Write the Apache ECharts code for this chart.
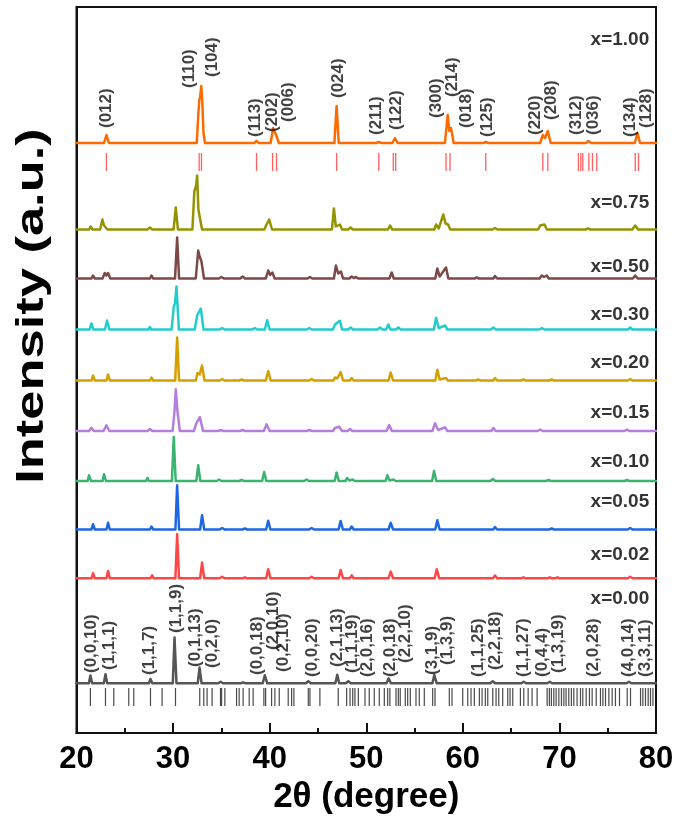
<!DOCTYPE html>
<html><head><meta charset="utf-8">
<script src="https://cdn.jsdelivr.net/npm/echarts@6/dist/echarts.min.js"></script>
<style>html,body{margin:0;padding:0;background:#fff}#c{width:677px;height:821px}</style>
</head><body><div id="c"></div>
<script>
// ---------------- DATA ----------------
const xTicks = [20, 30, 40, 50, 60, 70, 80];
const sampleNames = ['x=1.00','x=0.75','x=0.50','x=0.30','x=0.20','x=0.15','x=0.10','x=0.05','x=0.02','x=0.00'];
// vertical offset (stacking) of each pattern, in plot intensity units
const baselineOffsets = [590, 503.5, 454.5, 403.5, 352.5, 302, 252, 203.5, 154.7, 49.7];

// [2theta, intensity above own baseline]
const pattern100 = [[20,0],[22.85,0],[23.1,8],[23.35,0],[32.45,0],[32.62,30],[32.72,43],[32.8,46],[32.92,57],[33.02,42],[33.15,10],[33.3,0],[38.4,0],[38.64,2],[38.88,0],[40.1,0],[40.36,15],[40.71,7],[40.95,0],[46.7,0],[46.93,37],[47.15,0],[51.05,0],[51.3,1],[51.55,0],[52.7,0],[52.97,5],[53.25,0],[58.15,0],[58.43,28],[58.6,12],[58.78,15],[59.05,0],[62.12,0],[62.37,1],[62.62,0],[68.0,0],[68.28,8],[68.5,5],[68.8,12],[69.1,0],[72.75,0],[73.0,2],[73.3,0],[77.8,0],[78.08,10],[78.35,0],[80,0]];
const pattern075 = [[20,0],[21.3,0],[21.47,3],[21.65,0],[22.45,0],[22.68,10],[22.85,4],[23.0,4],[23.2,0],[27.35,0],[27.6,2],[27.85,0],[30.05,0],[30.28,22],[30.5,0],[32.0,0],[32.2,38],[32.3,41],[32.4,45],[32.49,54],[32.62,20],[32.77,12],[33.0,0],[39.45,0],[39.68,5],[39.95,10],[40.25,0],[46.45,0],[46.65,21],[46.85,3],[47.27,5],[47.5,0],[48.13,0],[48.38,2],[48.63,0],[52.25,0],[52.46,4],[52.7,0],[57.05,0],[57.23,5],[57.5,1],[57.98,15],[58.2,6],[58.47,5],[58.7,0],[63.08,0],[63.33,1.5],[63.58,0],[67.8,0],[68.0,4],[68.2,3],[68.45,5],[68.7,0],[72.72,0],[72.97,1],[73.22,0],[77.55,0],[77.85,4],[78.15,0],[80,0]];
const pattern050 = [[20,0],[21.55,0],[21.71,3],[21.9,0],[22.7,0],[22.92,5.5],[23.1,3],[23.27,5.5],[23.5,0],[27.6,0],[27.76,3],[27.95,0],[30.2,0],[30.42,41],[30.62,0],[32.35,0],[32.6,28],[32.75,22],[32.94,17],[33.2,0],[34.75,0],[35.0,1.5],[35.25,0],[36.95,0],[37.2,2],[37.45,0],[39.6,0],[39.85,8],[40.05,3.5],[40.28,6],[40.52,0],[43.92,0],[44.17,1.5],[44.42,0],[46.65,0],[46.86,13],[47.1,5],[47.38,7],[47.6,0],[48.25,0],[48.49,2],[48.71,0.5],[48.93,1.5],[49.17,0],[52.4,0],[52.63,6],[52.85,0],[57.15,0],[57.36,10],[57.6,2],[57.8,3],[58.26,11],[58.5,0],[61.2,0],[61.44,1],[61.68,0],[63.15,0],[63.33,2.5],[63.55,0],[67.95,0],[68.17,3],[68.4,1.5],[68.69,3],[68.9,0],[77.6,0],[77.85,3],[78.1,0],[80,0]];
const pattern030 = [[20,0],[21.35,0],[21.54,6],[21.75,0],[22.95,0],[23.16,9],[23.4,0],[27.45,0],[27.6,2.5],[27.75,0],[29.85,0],[30.07,23],[30.2,26],[30.35,43],[30.6,0],[32.25,0],[32.49,14],[32.65,14],[32.87,21],[33.15,0],[34.83,0],[35.08,1.5],[35.33,0],[38.22,0],[38.47,1.5],[38.72,0],[39.5,0],[39.74,9.3],[40.0,0],[43.85,0],[44.1,1.5],[44.35,0],[46.55,0],[46.76,5],[46.95,3],[47.27,8.7],[47.5,0],[48.13,0],[48.38,2],[48.63,0],[51.17,0],[51.42,2],[51.67,0],[52.05,0],[52.28,5],[52.5,0],[53.07,0],[53.32,2],[53.57,0],[57.0,0],[57.23,11.7],[57.5,1.5],[58.16,4],[58.4,0],[62.91,0],[63.16,2],[63.41,0],[67.92,0],[68.17,1.5],[68.42,0],[77.1,0],[77.33,2],[77.55,0],[80,0]];
const pattern020 = [[20,0],[21.55,0],[21.71,5],[21.9,0],[23.1,0],[23.27,6],[23.45,0],[27.6,0],[27.76,3],[27.95,0],[30.22,0],[30.42,43],[30.62,0],[32.35,0],[32.53,7.5],[32.75,6],[33.0,15],[33.25,0],[34.83,0],[35.08,1.5],[35.33,0],[36.84,0],[37.09,1],[37.34,0],[39.6,0],[39.85,9.5],[40.1,0],[44.09,0],[44.34,1.5],[44.59,0],[46.6,0],[46.76,3],[47.0,2],[47.35,8.5],[47.6,0],[48.3,0],[48.49,2.5],[48.7,0],[52.3,0],[52.53,8],[52.78,0],[57.15,0],[57.36,10.7],[57.6,1],[58.26,2.5],[58.45,0],[61.35,0],[61.6,1],[61.85,0],[63.15,0],[63.33,2.5],[63.55,0],[66.02,0],[66.27,1],[66.52,0],[68.95,0],[69.2,1],[69.45,0],[77.08,0],[77.33,1.5],[77.58,0],[80,0]];
const pattern015 = [[20,0],[21.3,0],[21.54,3.3],[21.8,0],[22.8,0],[23.1,5.7],[23.4,0],[27.35,0],[27.6,2],[27.85,0],[29.95,0],[30.15,20],[30.28,41.7],[30.45,20],[30.7,0],[32.15,0],[32.42,8],[32.55,7],[32.77,14],[33.1,0],[34.69,0],[34.94,1],[35.19,0],[36.95,0],[37.2,1],[37.45,0],[39.4,0],[39.68,6.7],[40.0,0],[43.85,0],[44.1,1],[44.35,0],[46.55,0],[46.76,3],[46.95,2.5],[47.2,4.3],[47.5,0],[48.06,0],[48.31,2],[48.56,0],[52.1,0],[52.38,6],[52.65,0],[56.85,0],[57.12,7.7],[57.45,1],[58.16,3.7],[58.4,0],[62.95,0],[63.16,3],[63.4,0],[67.75,0],[68.0,1.5],[68.25,0],[76.74,0],[76.99,1.5],[77.24,0],[80,0]];
const pattern010 = [[20,0],[21.15,0],[21.3,5.7],[21.5,0],[22.7,0],[22.85,6.7],[23.05,0],[27.2,0],[27.35,3],[27.5,0],[29.88,0],[30.07,44],[30.27,0],[32.4,0],[32.6,15.7],[32.82,0],[34.52,0],[34.77,1.5],[35.02,0],[36.84,0],[37.09,1],[37.34,0],[39.22,0],[39.43,9],[39.65,0],[43.57,0],[43.82,1.5],[44.07,0],[46.73,0],[46.93,8.4],[47.15,0],[47.85,0],[48.03,3],[48.25,0.5],[48.59,1.5],[48.84,0],[52.0,0],[52.18,5.7],[52.4,0.5],[52.8,1.5],[53.05,0],[56.82,0],[57.02,10],[57.25,0],[62.85,0],[63.1,2],[63.35,0],[68.61,0],[68.86,1],[69.11,0],[76.74,0],[76.99,1],[77.24,0],[80,0]];
const pattern005 = [[20,0],[21.55,0],[21.71,5.3],[21.9,0],[23.1,0],[23.27,6.7],[23.45,0],[27.6,0],[27.76,3],[27.95,0],[30.24,0],[30.42,44.3],[30.62,0],[32.8,0],[33.0,14.3],[33.22,0],[34.83,0],[35.08,1.5],[35.33,0],[37.18,0],[37.43,1],[37.68,0],[39.63,0],[39.85,8.7],[40.08,0],[44.09,0],[44.34,1.5],[44.59,0],[47.13,0],[47.35,8.6],[47.58,0],[48.3,0],[48.49,3],[48.7,0],[52.3,0],[52.53,6.7],[52.78,0],[57.14,0],[57.36,9.3],[57.6,0],[63.15,0],[63.33,2.5],[63.55,0],[68.95,0],[69.2,1],[69.45,0],[77.08,0],[77.33,1.5],[77.58,0],[80,0]];
const pattern002 = [[20,0],[21.55,0],[21.71,5],[21.9,0],[23.1,0],[23.27,7.3],[23.45,0],[27.65,0],[27.83,3],[28.0,0],[30.24,0],[30.42,44],[30.62,0],[32.8,0],[33.0,15.7],[33.22,0],[34.83,0],[35.08,1.5],[35.33,0],[37.18,0],[37.43,1],[37.68,0],[39.63,0],[39.85,9],[40.08,0],[44.09,0],[44.34,1.5],[44.59,0],[47.13,0],[47.35,8.3],[47.58,0],[48.3,0],[48.49,3],[48.7,0],[52.3,0],[52.53,6.7],[52.78,0],[57.08,0],[57.3,9],[57.55,0],[63.12,0],[63.33,2.7],[63.55,0],[66.02,0],[66.27,1],[66.52,0],[68.75,0],[69.0,1],[69.25,0],[69.55,0],[69.8,1],[70.05,0],[77.08,0],[77.33,1.5],[77.58,0],[80,0]];
const pattern000 = [[20,0],[21.28,0],[21.44,7.7],[21.62,0],[22.83,0],[23.0,9],[23.18,0],[27.5,0],[27.66,4.3],[27.85,0],[29.97,0],[30.15,45.7],[30.35,0],[32.55,0],[32.74,15.7],[32.95,0],[34.66,0],[34.91,1.5],[35.16,0],[37.0,0],[37.25,1],[37.5,0],[39.28,0],[39.5,8],[39.75,0],[43.75,0],[44.0,2],[44.25,0],[46.8,0],[47.0,8.5],[47.2,0],[47.89,0],[48.14,2],[48.39,0],[52.1,0],[52.32,5],[52.55,0],[56.85,0],[57.05,8.3],[57.3,0],[62.85,0],[63.1,2],[63.35,0],[66.05,0],[66.3,1.5],[66.55,0],[68.75,0],[69.0,1.5],[69.25,0],[76.95,0],[77.2,1.5],[77.45,0],[80,0]];

// reference reflection positions (2theta)
const refRhombohedral = [23.1,32.70,32.94,38.64,40.30,40.71,46.93,51.3,52.8,53.05,58.26,58.67,62.37,68.28,68.8,71.97,72.22,72.42,73.05,73.42,73.87,77.85,78.19];
const refOrthorhombic = [21.44,23.0,23.86,25.41,25.93,27.66,28.86,30.25,32.76,33.18,33.52,34.04,34.91,
 35.02,35.36,36.57,36.84,37.25,37.88,38.29,39.40,39.58,40.20,40.54,40.99,41.92,42.27,42.51,44.0,44.17,45.2,47.1,47.97,48.32,48.6,48.83,49.18,49.87,
 50.31,50.83,51.35,51.87,52.22,52.45,53.08,53.32,53.52,54.04,54.29,54.56,55.15,55.49,56.01,56.88,57.12,58.60,58.88,59.99,60.51,60.85,61.19,61.71,61.99,62.33,62.58,63.10,63.44,63.72,64.13,64.65,64.89,65.17,
 65.96,66.31,66.76,67.17,67.69,68.73,68.96,69.17,69.42,69.66,69.94,70.21,70.46,70.69,70.97,71.24,71.49,71.83,72.18,72.42,72.77,73.11,73.39,73.81,74.25,74.50,74.77,75.12,75.46,75.80,76.22,77.02,77.36,78.40,78.64,78.91,79.19,79.43,79.68];

// hkl annotations: [text, 2theta, bottom of label (plot units)]
const hklRhombohedral = [['(012)',23.13,605],['(110)',31.73,645],['(104)',34.01,656],['(113)',38.47,596],['(202)',40.23,601],['(006)',41.89,611],['(024)',47.07,635],['(211)',51.0,598],['(122)',53.08,603],['(300)',57.22,615],['(214)',58.88,636],['(018)',60.33,605],['(125)',62.51,596],['(220)',67.48,598],['(208)',69.14,613],['(312)',71.73,598],['(036)',73.49,598],['(134)',77.33,596],['(128)',78.99,605]];
const hklOrthorhombic = [['(0,0,10)',21.54,60],['(1,1,1)',23.44,63],['(1,1,7)',27.59,58],['(1,1,9)',30.38,100],['(0,1,13)',32.25,66],['(0,2,0)',34.01,65],['(0,0,18)',38.67,58],['(2,0,10)',40.33,83],['(0,2,10)',41.37,61],['(0,0,20)',44.37,56],['(2,1,13)',46.96,66],['(1,1,19)',48.52,60],['(2,0,16)',50.07,56],['(2,0,18)',52.45,56],['(2,2,10)',54.01,70],['(3,1,9)',56.81,58],['(1,3,9)',58.36,68],['(1,1,25)',61.57,56],['(2,2,18)',63.34,63],['(1,1,27)',66.24,56],['(0,4,4)',68.21,56],['(1,3,19)',69.87,60],['(2,0,28)',73.49,56],['(4,0,14)',77.12,56],['(3,3,11)',78.88,56]];

// ---------------- STYLE / LAYOUT ----------------
const FONT = 'Liberation Sans, Arial, Helvetica, sans-serif';
const colors = ['#ff6a00','#949400','#7d4848','#22cccc','#d4a000','#b57edc','#3cb371','#1f66e5','#ff4646','#555555'];
const patterns = [pattern100,pattern075,pattern050,pattern030,pattern020,pattern015,pattern010,pattern005,pattern002,pattern000];
const sampleLabelY = [693,530,466,418,370,320,271,231,178,134];
const sampleLabelX = 79.3;

const chart = echarts.init(document.getElementById('c'), null, {renderer:'canvas'});

const series = [];
patterns.forEach((p, i) => {
  series.push({
    type:'line', name: sampleNames[i], showSymbol:false, silent:true, z: 3,
    lineStyle:{color: colors[i], width: 2.5, join:'round', cap:'round'},
    data: p.map(d => [d[0], baselineOffsets[i] + d[1]])
  });
});

function sticks(xs, y0, y1, color, w) {
  return {
    type:'custom', silent:true, z:2,
    data: xs.map(x => [x, y0]),
    encode:{x:0, y:1},
    renderItem: (params, api) => {
      const a = api.coord([api.value(0), y0]);
      const b = api.coord([api.value(0), y1]);
      return {type:'line', shape:{x1:a[0], y1:a[1], x2:b[0], y2:b[1]}, style:{stroke:color, lineWidth:w}};
    }
  };
}
series.push(sticks(refRhombohedral, 562, 580, '#ff6060', 1.3));
series.push(sticks(refOrthorhombic, 27, 45, '#4a4a4a', 1.2));

function hklSeries(list) {
  return {
    type:'scatter', symbolSize:0, silent:true, z:5,
    data: list.map(d => ({name: d[0], value:[d[1], d[2]]})),
    label:{show:true, formatter: p => p.name, rotate:90, position:'inside', align:'left', verticalAlign:'middle',
      fontFamily: FONT, fontSize: 17, fontWeight:'bold', color:'#111'}
  };
}
series.push(hklSeries(hklRhombohedral));
series.push(hklSeries(hklOrthorhombic));

series.push({
  type:'scatter', symbolSize:0, silent:true, z:5,
  data: sampleNames.map((n, i) => ({name:n, value:[sampleLabelX, sampleLabelY[i]]})),
  label:{show:true, formatter: p => p.name, position:'inside', align:'right', verticalAlign:'middle',
    fontFamily: FONT, fontSize: 19, fontWeight:'bold', color:'#000'}
});

chart.setOption({
  animation:false,
  backgroundColor:'#fff',
  grid:{left:76.5, right:21, top:7, bottom:88, show:true, borderColor:'#111', borderWidth:2},
  xAxis:{
    type:'value', min:20, max:80, interval:10,
    name:'2\u03b8 (degree)', nameLocation:'middle', nameGap:47,
    nameTextStyle:{fontFamily:FONT, fontSize:35, fontWeight:'bold', color:'#000'},
    axisLine:{show:true, lineStyle:{color:'#111', width:2}},
    axisTick:{show:true, inside:true, length:10, lineStyle:{color:'#111', width:2}},
    minorTick:{show:true, splitNumber:2, length:5, lineStyle:{color:'#111', width:2}},
    splitLine:{show:false},
    axisLabel:{margin:11, fontFamily:FONT, fontSize:31, fontWeight:'bold', color:'#000',
      formatter: v => xTicks.indexOf(v) >= 0 ? String(v) : ''}
  },
  yAxis:{
    type:'value', min:0, max:726,
    axisLine:{show:true, lineStyle:{color:'#111', width:2}},
    axisTick:{show:false}, axisLabel:{show:false}, splitLine:{show:false}
  },
  graphic:[{
    type:'text', x:33, y:306, rotation:Math.PI/2, scaleX:1.38,
    style:{text:'Intensity (a.u.)', fontFamily:FONT, fontSize:38, fontWeight:'bold', fill:'#000', align:'center', verticalAlign:'middle'}
  }],
  series
});
</script></body></html>
